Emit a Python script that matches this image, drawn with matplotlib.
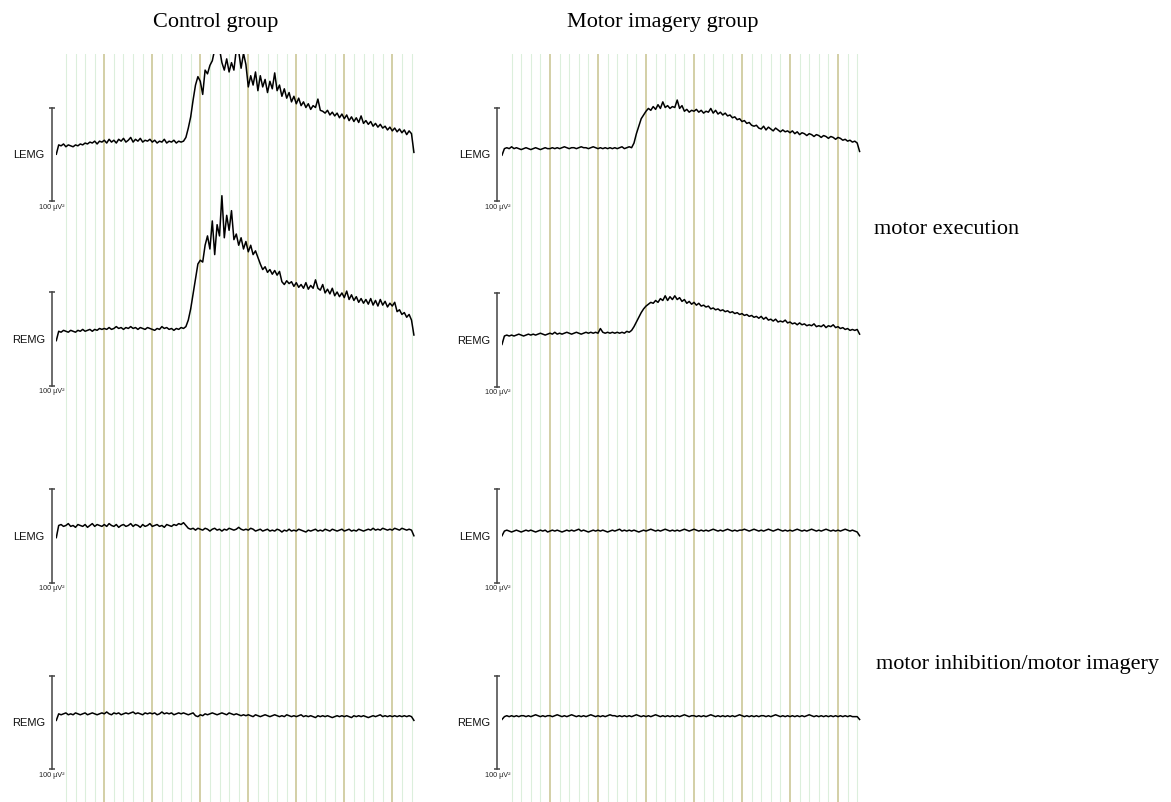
'''
Rectified EMG envelopes (LEMG / REMG) for the control group and the
motor imagery group, during motor execution and motor inhibition/imagery.
'''

import numpy as np
import matplotlib
matplotlib.use('Agg')
import matplotlib.pyplot as plt

W, H = 1171, 803

groups = ['Control group', 'Motor imagery group']
channels = ['LEMG', 'REMG', 'LEMG', 'REMG']
conditions = ['motor execution', 'motor inhibition/motor imagery']
scale_label = '100 \u00b5V\u00b2'
scale_value = 100

# all traces sampled every 0.05 s (uV^2)
# motor execution
ctrl_lemg_exec = [
    50, 60, 59, 61, 58, 60, 59, 58, 60, 59,
    61, 60, 62, 61, 63, 62, 64, 61, 64, 63,
    65, 62, 66, 63, 65, 62, 66, 64, 67, 63,
    65, 68, 63, 66, 64, 67, 63, 65, 64, 66,
    63, 65, 62, 64, 63, 66, 62, 64, 63, 65,
    62, 64, 63, 64, 68, 78, 90, 108, 124, 133,
    128, 114, 140, 136, 145, 150, 162, 160, 163, 148,
    140, 152, 138, 148, 140, 162, 160, 142, 158, 146,
    122, 134, 124, 138, 118, 134, 122, 130, 116, 128,
    120, 137, 118, 124, 112, 120, 110, 116, 106, 112,
    104, 110, 102, 106, 100, 104, 98, 102, 100, 109,
    97, 96, 94, 97, 92, 95, 91, 94, 89, 93,
    88, 92, 86, 90, 85, 89, 84, 91, 83, 86,
    82, 85, 80, 83, 79, 82, 78, 80, 76, 79,
    75, 78, 74, 77, 73, 76, 71, 75, 72, 52,
]
ctrl_remg_exec = [
    48, 58, 57, 59, 58, 57, 59, 58, 57, 59,
    58, 60, 58, 59, 60, 58, 60, 59, 61, 60,
    61, 60, 62, 60, 61, 63, 61, 62, 60, 62,
    61, 63, 61, 62, 60, 62, 61, 60, 62, 61,
    60, 59, 61, 60, 63, 61, 62, 60, 61, 59,
    61, 60, 62, 61, 63, 70, 82, 98, 114, 130,
    134, 132, 150, 160, 146, 176, 140, 172, 160, 203,
    158, 182, 166, 187, 156, 162, 150, 158, 146, 154,
    143, 150, 140, 144, 137, 130, 124, 127, 121, 124,
    119, 123, 118, 122, 111, 108, 112, 109, 111, 106,
    110, 105, 108, 104, 110, 103, 107, 104, 113, 104,
    102, 108, 99, 103, 98, 104, 96, 100, 95, 99,
    94, 101, 92, 97, 91, 95, 89, 93, 88, 92,
    87, 93, 86, 91, 85, 92, 86, 90, 84, 88,
    85, 89, 79, 81, 76, 78, 73, 76, 70, 54,
]
mi_lemg_exec = [
    49, 56, 57, 56, 58, 56, 57, 56, 55, 56,
    57, 56, 55, 56, 57, 56, 55, 56, 57, 56,
    56, 57, 56, 57, 56, 57, 58, 57, 56, 57,
    57, 56, 57, 58, 57, 57, 56, 57, 58, 57,
    56, 57, 56, 57, 56, 57, 56, 57, 56, 57,
    58, 56, 57, 58, 57, 62, 72, 80, 88, 92,
    96, 99, 97, 101, 98, 103, 99, 106, 100, 102,
    99, 101, 100, 108, 99, 102, 96, 98, 95, 97,
    96, 98, 95, 97, 94, 96, 95, 99, 94, 97,
    93, 95, 92, 94, 91, 92, 89, 90, 87, 88,
    85, 86, 83, 84, 81, 80, 81, 78, 77, 80,
    76, 79, 77, 75, 78, 76, 74, 76, 74, 75,
    73, 75, 72, 74, 71, 73, 72, 70, 72, 71,
    69, 71, 70, 68, 70, 69, 67, 69, 68, 66,
    68, 67, 65, 66, 64, 65, 63, 64, 62, 53,
]
mi_remg_exec = [
    45, 54, 55, 54, 55, 54, 55, 56, 55, 54,
    55, 56, 55, 56, 55, 56, 57, 56, 55, 56,
    57, 56, 58, 56, 57, 56, 57, 58, 57, 56,
    57, 58, 57, 56, 57, 58, 57, 58, 57, 58,
    57, 62, 58, 57, 58, 57, 58, 57, 58, 57,
    58, 57, 59, 58, 60, 64, 69, 74, 79, 83,
    86, 88, 90, 89, 92, 90, 94, 92, 97, 92,
    96, 93, 97, 93, 95, 91, 93, 89, 91, 88,
    90, 87, 89, 86, 87, 85, 86, 83, 84, 82,
    83, 81, 82, 80, 81, 79, 80, 78, 79, 77,
    78, 76, 77, 75, 76, 74, 75, 73, 75, 72,
    74, 71, 72, 70, 72, 69, 70, 69, 71, 68,
    69, 67, 68, 66, 68, 66, 67, 65, 66, 65,
    67, 64, 65, 64, 66, 63, 65, 64, 66, 63,
    64, 62, 63, 61, 62, 60, 61, 60, 61, 56,
]

# motor inhibition / motor imagery
ctrl_lemg_imag = [
    48, 61, 62, 60, 61, 63, 60, 61, 59, 62,
    61, 60, 62, 59, 61, 63, 60, 62, 61, 60,
    62, 60, 63, 61, 60, 62, 59, 61, 62, 60,
    61, 63, 60, 62, 61, 59, 62, 60, 61, 63,
    60, 61, 62, 60, 61, 59, 62, 61, 60, 62,
    61, 63, 62, 64, 61, 58, 57, 58, 56, 58,
    57, 56, 58, 57, 55, 57, 58, 56, 57, 55,
    57, 56, 58, 57, 56, 57, 59, 57, 56, 57,
    56, 58, 57, 55, 56, 57, 55, 56, 57, 55,
    56, 55, 57, 56, 54, 56, 55, 57, 55, 56,
    55, 57, 56, 55, 54, 56, 55, 56, 57, 55,
    56, 55, 57, 56, 55, 57, 56, 55, 56, 57,
    55, 56, 57, 55, 56, 55, 57, 56, 55, 56,
    57, 56, 58, 56, 57, 56, 58, 57, 56, 57,
    56, 58, 57, 56, 58, 57, 56, 57, 56, 50,
]
ctrl_remg_imag = [
    52, 59, 58, 59, 60, 58, 59, 58, 60, 59,
    58, 59, 60, 58, 59, 60, 59, 58, 59, 60,
    59, 61, 59, 58, 60, 59, 60, 58, 59, 60,
    59, 60, 61, 59, 60, 59, 58, 60, 59, 60,
    59, 60, 58, 59, 61, 59, 60, 59, 60, 58,
    59, 60, 59, 60, 59, 58, 59, 60, 57, 56,
    58, 57, 59, 58, 59, 60, 59, 58, 59, 60,
    59, 58, 60, 59, 58, 59, 58, 57, 58, 57,
    58, 57, 56, 58, 57, 56, 57, 58, 57, 56,
    57, 58, 57, 56, 57, 56, 58, 57, 56, 57,
    56, 57, 58, 56, 57, 56, 57, 56, 55, 57,
    56, 57, 56, 57, 56, 55, 56, 57, 56, 57,
    56, 57, 56, 55, 57, 56, 57, 56, 57, 56,
    55, 56, 57, 56, 57, 58, 56, 57, 56, 57,
    56, 57, 56, 57, 56, 57, 56, 57, 56, 52,
]
mi_lemg_imag = [
    50, 55, 56, 55, 54, 55, 56, 55, 54, 55,
    56, 55, 56, 55, 54, 55, 56, 55, 56, 54,
    55, 56, 55, 56, 55, 54, 55, 56, 55, 56,
    55, 56, 57, 55, 56, 55, 54, 55, 56, 55,
    56, 55, 56, 55, 54, 55, 56, 55, 56, 57,
    55, 56, 55, 56, 55, 56, 55, 54, 55, 56,
    55, 56, 57, 56, 55, 56, 55, 56, 57, 56,
    55, 56, 55, 56, 55, 56, 57, 56, 55, 56,
    57, 56, 55, 56, 55, 56, 55, 56, 57, 56,
    55, 56, 55, 56, 57, 56, 55, 56, 55, 56,
    56, 57, 56, 55, 56, 57, 56, 55, 56, 55,
    56, 57, 56, 55, 56, 57, 56, 55, 56, 55,
    56, 55, 56, 57, 56, 55, 56, 55, 56, 57,
    56, 55, 56, 55, 56, 57, 56, 55, 56, 55,
    56, 55, 56, 57, 56, 55, 56, 55, 54, 50,
]
mi_remg_imag = [
    53, 56, 57, 56, 57, 56, 57, 56, 57, 57,
    56, 57, 56, 57, 58, 57, 56, 57, 56, 57,
    57, 56, 57, 58, 57, 56, 57, 56, 57, 58,
    57, 56, 57, 56, 57, 56, 57, 58, 57, 56,
    57, 56, 57, 56, 57, 58, 57, 57, 56, 57,
    56, 57, 56, 57, 56, 57, 58, 57, 56, 57,
    56, 57, 56, 57, 58, 57, 56, 57, 56, 57,
    56, 57, 56, 57, 56, 57, 58, 57, 56, 57,
    57, 56, 57, 56, 57, 56, 57, 58, 57, 56,
    57, 56, 57, 56, 57, 56, 57, 56, 57, 58,
    57, 56, 57, 56, 57, 56, 57, 56, 57, 57,
    56, 57, 56, 57, 58, 57, 56, 57, 56, 57,
    56, 57, 56, 57, 56, 57, 56, 57, 58, 57,
    56, 57, 56, 57, 56, 57, 56, 57, 56, 57,
    56, 57, 56, 57, 56, 57, 56, 56, 56, 53,
]

traces = [
    [ctrl_lemg_exec, mi_lemg_exec],
    [ctrl_remg_exec, mi_remg_exec],
    [ctrl_lemg_imag, mi_lemg_imag],
    [ctrl_remg_imag, mi_remg_imag],
]

T_END = 7.45
SEC_PX = 48.0       # pixels per second
UV_PX = 0.935       # pixels per uV^2
col_x0 = [56.3, 502.0]
row_base = [[202.0, 386.5, 583.5, 770.0], [202.0, 387.5, 583.5, 770.0]]
row_top = [157.0, 215.0, 215.0, 215.0]
GRID_TOP = 55.0

fig = plt.figure(figsize=(W / 100, H / 100), dpi=100)
fig.patch.set_facecolor('white')


def px_axes(x0, top, bottom, xlim, ylim, z=1):
    ax = fig.add_axes([x0 / W, 1 - bottom / H, 7.5 * SEC_PX / W, (bottom - top) / H])
    ax.set_xlim(*xlim)
    ax.set_ylim(*ylim)
    ax.set_zorder(z)
    ax.patch.set_visible(False)
    ax.axis('off')
    return ax


minor = [round(0.2 * k, 1) for k in range(1, 38) if k % 5 != 0]
major = list(range(1, 8))

for c in range(2):
    # time grid behind the traces
    g = px_axes(col_x0[c], GRID_TOP, H, (0, 7.5), (0, 1), z=0)
    for t in minor:
        g.axvline(t, color='#dcefdc', lw=0.8)
    for t in major:
        g.axvline(t, color='#c8c28e', lw=1.1)

    for r in range(4):
        base = row_base[c][r]
        vmin = -20
        vmax = row_top[r]
        ax = px_axes(col_x0[c], base - vmax * UV_PX, base - vmin * UV_PX,
                     (0, 7.5), (vmin, vmax), z=2)
        y = np.array(traces[r][c], dtype=float)
        t = np.linspace(0, T_END, len(y))
        ax.plot(t, y, color='black', lw=1.1)

        # 100 uV^2 scale bar
        ax.plot([-0.095, -0.095], [0, scale_value], color='#444444', lw=1.1,
                marker='_', ms=5, mew=1.1, clip_on=False)
        ax.text(-0.095, -2, scale_label, ha='center', va='top', fontsize=5.2,
                family='Liberation Sans', color='#222222', clip_on=False)
        ax.text(-0.24, scale_value / 2, channels[r], ha='right', va='center',
                fontsize=8, family='Liberation Sans', color='#111111', clip_on=False)

fig.text(216 / W, 1 - 22 / H, groups[0], ha='center', va='center',
         fontsize=16, family='Liberation Serif')
fig.text(663 / W, 1 - 22 / H, groups[1], ha='center', va='center',
         fontsize=16, family='Liberation Serif')
fig.text(874 / W, 1 - 230 / H, conditions[0], ha='left', va='center',
         fontsize=16, family='Liberation Serif')
fig.text(876 / W, 1 - 665 / H, conditions[1], ha='left', va='center',
         fontsize=16, family='Liberation Serif')

fig.savefig('out.png', dpi=100, facecolor='white')
